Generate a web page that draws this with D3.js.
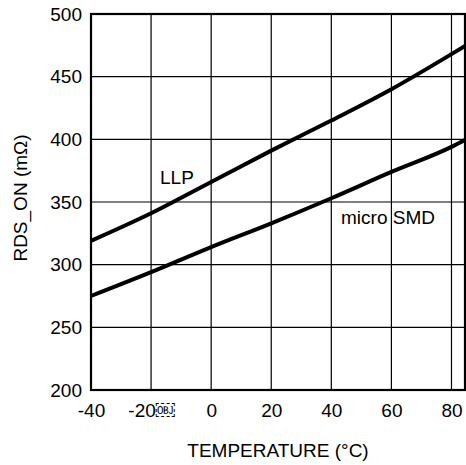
<!DOCTYPE html>
<html>
<head>
<meta charset="utf-8">
<script src="https://cdn.jsdelivr.net/npm/d3@7"></script>
<style>
  body { margin: 0; background: #fff; }
  svg text { font-family: "Liberation Sans", Arial, sans-serif; fill: #000; }
</style>
</head>
<body>
<svg id="chart" width="466" height="465"></svg>
<script>
// temperature points (°C), last one sits on the right frame
const temps = [-40, -20, 0, 20, 40, 60, 80, 84.5];
// RDS_ON (mΩ)
const llp = [319, 341, 366, 391, 415, 440, 468, 474.5];
const microSmd = [275, 294, 314, 333, 353, 374, 394, 399.5];
const xTicks = [-40, -20, 0, 20, 40, 60, 80];
const xTickLabels = ["-40", "-20\uFFFC", "0", "20", "40", "60", "80"];
const yTicks = [200, 250, 300, 350, 400, 450, 500];

const svg = d3.select("#chart");
const plotLeft = 91, plotRight = 465, plotTop = 14, plotBottom = 390;
const fontSize = "19px";

const x = d3.scaleLinear().domain([-40, 84.5]).range([plotLeft, plotRight]);
const y = d3.scaleLinear().domain([200, 500]).range([plotBottom, plotTop]);

// grid
svg.append("g")
    .selectAll("line")
    .data(xTicks.slice(1))
    .enter().append("line")
    .attr("x1", d => x(d)).attr("x2", d => x(d))
    .attr("y1", plotTop).attr("y2", plotBottom)
    .attr("stroke", "#000").attr("stroke-width", 1.2);

svg.append("g")
    .selectAll("line")
    .data(yTicks.slice(1, -1))
    .enter().append("line")
    .attr("x1", plotLeft).attr("x2", plotRight)
    .attr("y1", d => y(d)).attr("y2", d => y(d))
    .attr("stroke", "#000").attr("stroke-width", 1.2);

// frame
svg.append("rect")
    .attr("x", plotLeft).attr("y", plotTop)
    .attr("width", plotRight - plotLeft).attr("height", plotBottom - plotTop)
    .attr("fill", "none")
    .attr("stroke", "#000")
    .attr("stroke-width", 2.2);

// axes (labels only, the grid does the tick work)
const xAxis = d3.axisBottom(x)
    .tickValues(xTicks)
    .tickSize(0)
    .tickPadding(14)
    .tickFormat((d, i) => xTickLabels[i]);
const gx = svg.append("g").attr("transform", `translate(0,${plotBottom})`).call(xAxis);

const yAxis = d3.axisLeft(y).tickValues(yTicks).tickSize(0).tickPadding(9);
const gy = svg.append("g").attr("transform", `translate(${plotLeft},0)`).call(yAxis);

[gx, gy].forEach(g => {
    g.select(".domain").remove();
    g.selectAll("text")
        .style("font-family", "'Liberation Sans', Arial, sans-serif")
        .style("font-size", fontSize)
        .attr("fill", "#000");
});

// curves
const line = d3.line()
    .x((d, i) => x(temps[i]))
    .y(d => y(d))
    .curve(d3.curveMonotoneX);

[llp, microSmd].forEach(series => {
    svg.append("path")
        .datum(series)
        .attr("d", line)
        .attr("fill", "none")
        .attr("stroke", "#000")
        .attr("stroke-width", 4);
});

// series labels
svg.append("text")
    .attr("x", 160).attr("y", 184)
    .style("font-size", fontSize)
    .text("LLP");

svg.append("text")
    .attr("x", 341).attr("y", 224)
    .style("font-size", fontSize)
    .text("micro SMD");

// axis titles
svg.append("text")
    .attr("x", 278).attr("y", 457)
    .attr("text-anchor", "middle")
    .style("font-size", fontSize)
    .text("TEMPERATURE (°C)");

svg.append("text")
    .attr("transform", "translate(27,198) rotate(-90)")
    .attr("text-anchor", "middle")
    .style("font-size", fontSize)
    .text("RDS_ON (mΩ)");
</script>
</body>
</html>
